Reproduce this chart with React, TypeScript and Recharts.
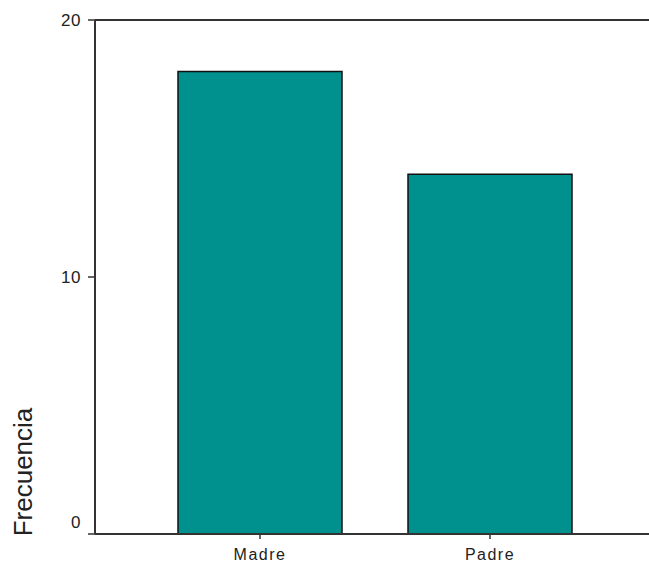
import React from 'react';
import { BarChart, Bar, XAxis, YAxis, ReferenceLine, Label } from 'recharts';

const categories = ['Madre', 'Padre'];
const frecuencia = [18, 14];
const yTicks = [0, 10, 20];

const data = categories.map((name, i) => ({ name, value: frecuencia[i] }));

const YTick = ({ x, y, payload }: any) => {
  // SPSS lifts the "0" label above the baseline
  const shift = payload.value === 0 ? -12 : 0;
  return (
    <text x={x - 5} y={y + shift} dy={6} textAnchor="end" fontSize={17} letterSpacing={0.5} fill="#222" fontFamily="Arial, 'Liberation Sans', sans-serif">
      {payload.value}
    </text>
  );
};

const XTick = ({ x, y, payload }: any) => (
  <text x={x} y={y} dy={19} textAnchor="middle" fontSize={16} letterSpacing={1.5} fill="#222" fontFamily="Arial, 'Liberation Sans', sans-serif">
    {payload.value}
  </text>
);

const YTitle = () => (
  <text x={0} y={0} transform="translate(32,472) rotate(-90)" textAnchor="middle" fontSize={26} fill="#222" fontFamily="Arial, 'Liberation Sans', sans-serif">
    Frecuencia
  </text>
);

export default function App() {
  return (
    <div style={{ position: 'absolute', left: 0, top: 0, background: '#fff' }}>
      <BarChart width={649} height={565} data={data} margin={{ top: 20, right: 0, bottom: 0, left: 0 }}>
        <XAxis
          dataKey="name"
          height={31}
          padding={{ left: 50, right: 44 }}
          axisLine={{ stroke: '#333', strokeWidth: 2 }}
          tickLine={{ stroke: '#333', strokeWidth: 1.5 }}
          tickSize={5}
          tick={<XTick />}
        />
        <YAxis
          width={95}
          domain={[0, 20]}
          ticks={yTicks}
          axisLine={{ stroke: '#333', strokeWidth: 2 }}
          tickLine={{ stroke: '#333', strokeWidth: 1.5 }}
          tickSize={7}
          tick={<YTick />}
        >
          <Label content={<YTitle />} />
        </YAxis>
        <ReferenceLine y={20} stroke="#333" strokeWidth={2} />
        <Bar dataKey="value" fill="#00918E" stroke="#111" strokeWidth={1.5} barSize={164} isAnimationActive={false} />
      </BarChart>
    </div>
  );
}
